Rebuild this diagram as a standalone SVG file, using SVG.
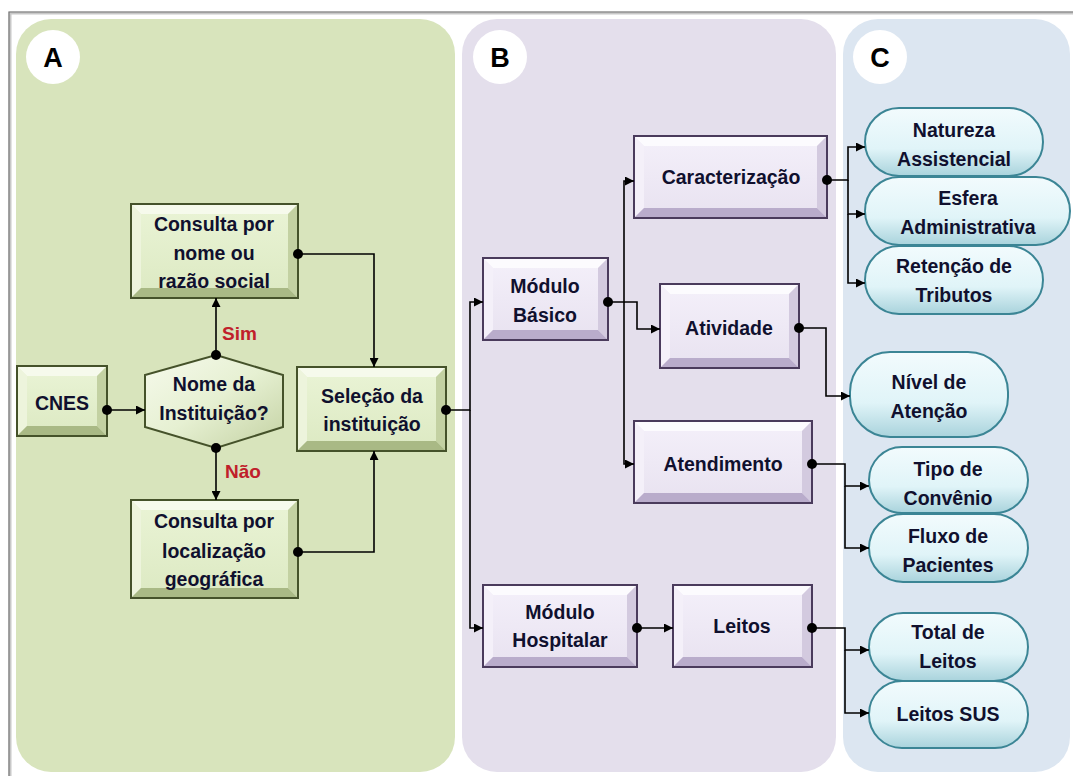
<svg xmlns="http://www.w3.org/2000/svg" width="1073" height="776" viewBox="0 0 1073 776">
<style>
.t{font-family:"Liberation Sans",Arial,sans-serif;font-weight:bold;font-size:19.5px;fill:#10102e;text-anchor:middle}
.lbl{font-family:"Liberation Sans",Arial,sans-serif;font-weight:bold;font-size:19px;fill:#c0202a}
.big{font-family:"Liberation Sans",Arial,sans-serif;font-weight:bold;font-size:27px;fill:#000;text-anchor:middle}
.g .bt{fill:#f6faec}.g .bl{fill:#edf4dc}.g .br{fill:#c3d1a2}.g .bb{fill:#a9b985}.g .f{fill:url(#gface)}.g .o{fill:none;stroke:#45522a;stroke-width:2}
.p .bt{fill:#fcfbfe}.p .bl{fill:#f4f0f9}.p .br{fill:#d3cadf}.p .bb{fill:#b9accb}.p .f{fill:url(#pface)}.p .o{fill:none;stroke:#4a3b5c;stroke-width:2}
.pill{fill:url(#cface);stroke:#3b8595;stroke-width:2}
.c path{fill:none;stroke:#000;stroke-width:1.6;marker-start:url(#dot);marker-end:url(#arr)}
.c path.nd{marker-start:none}
</style>
<defs>
<linearGradient id="gface" x1="0" y1="0" x2="0" y2="1"><stop offset="0" stop-color="#eaf4d6"/><stop offset="1" stop-color="#dce9c2"/></linearGradient>
<linearGradient id="pface" x1="0" y1="0" x2="0" y2="1"><stop offset="0" stop-color="#f4f0fa"/><stop offset="1" stop-color="#e8e2f0"/></linearGradient>
<linearGradient id="cface" x1="0" y1="0" x2="0" y2="1"><stop offset="0" stop-color="#f2fbfd"/><stop offset="0.6" stop-color="#e0f4f8"/><stop offset="1" stop-color="#a9d3dc"/></linearGradient>
<linearGradient id="hface" x1="0" y1="0" x2="1" y2="1"><stop offset="0" stop-color="#f6faec"/><stop offset="0.5" stop-color="#e6f0d2"/><stop offset="1" stop-color="#c3d1a2"/></linearGradient>
<marker id="arr" viewBox="0 0 10 10" refX="10" refY="5" markerWidth="9" markerHeight="9" markerUnits="userSpaceOnUse" orient="auto"><path d="M0,0 L10,5 L0,10 z" fill="#000"/></marker>
<marker id="dot" viewBox="0 0 10 10" refX="5" refY="5" markerWidth="10" markerHeight="10" markerUnits="userSpaceOnUse"><circle cx="5" cy="5" r="5" fill="#000"/></marker>
</defs>
<rect width="1073" height="776" fill="#fff"/>
<path d="M10 776 V13 H1073" fill="none" stroke="#c8c8c8" stroke-width="3"/>
<path d="M9 776 V12 H1073" fill="none" stroke="#777" stroke-width="1.2"/>
<g id="panelA"><rect x="16" y="19" width="439" height="753" rx="35" fill="#d8e4bc"/><circle cx="53" cy="57" r="27" fill="#fff"/><text class="big" x="53" y="67">A</text></g>
<g id="panelB"><rect x="462" y="19" width="374" height="753" rx="35" fill="#e4dfec"/><circle cx="500" cy="57" r="27" fill="#fff"/><text class="big" x="500" y="67">B</text></g>
<g id="panelC"><rect x="843" y="19" width="227" height="753" rx="35" fill="#dce6f1"/><circle cx="880" cy="57" r="27" fill="#fff"/><text class="big" x="880" y="67">C</text></g>

<g id="nome" class="g" transform="translate(131,204)">
<rect class="f" x="0" y="0" width="167" height="94"/>
<polygon class="bt" points="0,0 167,0 157,10 10,10"/><polygon class="bl" points="0,0 10,10 10,84 0,94"/><polygon class="br" points="167,0 167,94 157,84 157,10"/><polygon class="bb" points="0,94 10,84 157,84 167,94"/>
<rect class="o" x="0" y="0" width="167" height="94"/>
<text class="t" x="83" y="27">Consulta por</text><text class="t" x="83" y="56">nome ou</text><text class="t" x="83" y="84">razão social</text>
</g>
<g id="cnes" class="g" transform="translate(17,366)">
<rect class="f" x="0" y="0" width="90" height="70"/>
<polygon class="bt" points="0,0 90,0 80,10 10,10"/><polygon class="bl" points="0,0 10,10 10,60 0,70"/><polygon class="br" points="90,0 90,70 80,60 80,10"/><polygon class="bb" points="0,70 10,60 80,60 90,70"/>
<rect class="o" x="0" y="0" width="90" height="70"/>
<text class="t" x="45" y="44">CNES</text>
</g>
<g id="decisao">
<polygon points="216,355 283,375 283,427 216,448 145,427 145,375" fill="url(#hface)" stroke="#45522a" stroke-width="2"/>
<text class="t" x="214" y="391">Nome da</text><text class="t" x="214" y="420">Instituição?</text>
</g>
<g id="localizacao" class="g" transform="translate(131,500)">
<rect class="f" x="0" y="0" width="167" height="98"/>
<polygon class="bt" points="0,0 167,0 157,10 10,10"/><polygon class="bl" points="0,0 10,10 10,88 0,98"/><polygon class="br" points="167,0 167,98 157,88 157,10"/><polygon class="bb" points="0,98 10,88 157,88 167,98"/>
<rect class="o" x="0" y="0" width="167" height="98"/>
<text class="t" x="83" y="28">Consulta por</text><text class="t" x="83" y="58">localização</text><text class="t" x="83" y="86">geográfica</text>
</g>
<g id="selecao" class="g" transform="translate(297,367)">
<rect class="f" x="0" y="0" width="149" height="84"/>
<polygon class="bt" points="0,0 149,0 139,10 10,10"/><polygon class="bl" points="0,0 10,10 10,74 0,84"/><polygon class="br" points="149,0 149,84 139,74 139,10"/><polygon class="bb" points="0,84 10,74 139,74 149,84"/>
<rect class="o" x="0" y="0" width="149" height="84"/>
<text class="t" x="75" y="36">Seleção da</text><text class="t" x="75" y="64">instituição</text>
</g>

<g id="moduloBasico" class="p" transform="translate(483,258)">
<rect class="f" x="0" y="0" width="125" height="82"/>
<polygon class="bt" points="0,0 125,0 115,10 10,10"/><polygon class="bl" points="0,0 10,10 10,72 0,82"/><polygon class="br" points="125,0 125,82 115,72 115,10"/><polygon class="bb" points="0,82 10,72 115,72 125,82"/>
<rect class="o" x="0" y="0" width="125" height="82"/>
<text class="t" x="62" y="35">Módulo</text><text class="t" x="62" y="64">Básico</text>
</g>
<g id="caracterizacao" class="p" transform="translate(634,136)">
<rect class="f" x="0" y="0" width="193" height="82"/>
<polygon class="bt" points="0,0 193,0 183,10 10,10"/><polygon class="bl" points="0,0 10,10 10,72 0,82"/><polygon class="br" points="193,0 193,82 183,72 183,10"/><polygon class="bb" points="0,82 10,72 183,72 193,82"/>
<rect class="o" x="0" y="0" width="193" height="82"/>
<text class="t" x="97" y="48">Caracterização</text>
</g>
<g id="atividade" class="p" transform="translate(660,284)">
<rect class="f" x="0" y="0" width="139" height="84"/>
<polygon class="bt" points="0,0 139,0 129,10 10,10"/><polygon class="bl" points="0,0 10,10 10,74 0,84"/><polygon class="br" points="139,0 139,84 129,74 129,10"/><polygon class="bb" points="0,84 10,74 129,74 139,84"/>
<rect class="o" x="0" y="0" width="139" height="84"/>
<text class="t" x="69" y="51">Atividade</text>
</g>
<g id="atendimento" class="p" transform="translate(634,421)">
<rect class="f" x="0" y="0" width="178" height="82"/>
<polygon class="bt" points="0,0 178,0 168,10 10,10"/><polygon class="bl" points="0,0 10,10 10,72 0,82"/><polygon class="br" points="178,0 178,82 168,72 168,10"/><polygon class="bb" points="0,82 10,72 168,72 178,82"/>
<rect class="o" x="0" y="0" width="178" height="82"/>
<text class="t" x="89" y="50">Atendimento</text>
</g>
<g id="moduloHospitalar" class="p" transform="translate(483,585)">
<rect class="f" x="0" y="0" width="154" height="82"/>
<polygon class="bt" points="0,0 154,0 144,10 10,10"/><polygon class="bl" points="0,0 10,10 10,72 0,82"/><polygon class="br" points="154,0 154,82 144,72 144,10"/><polygon class="bb" points="0,82 10,72 144,72 154,82"/>
<rect class="o" x="0" y="0" width="154" height="82"/>
<text class="t" x="77" y="34">Módulo</text><text class="t" x="77" y="62">Hospitalar</text>
</g>
<g id="leitos" class="p" transform="translate(673,585)">
<rect class="f" x="0" y="0" width="139" height="82"/>
<polygon class="bt" points="0,0 139,0 129,10 10,10"/><polygon class="bl" points="0,0 10,10 10,72 0,82"/><polygon class="br" points="139,0 139,82 129,72 129,10"/><polygon class="bb" points="0,82 10,72 129,72 139,82"/>
<rect class="o" x="0" y="0" width="139" height="82"/>
<text class="t" x="69" y="48">Leitos</text>
</g>

<g id="natureza"><rect class="pill" x="865" y="108" width="178" height="68" rx="34"/><text class="t" x="954" y="137">Natureza</text><text class="t" x="954" y="166">Assistencial</text></g>
<g id="esfera"><rect class="pill" x="865" y="177" width="205" height="68" rx="34"/><text class="t" x="968" y="205">Esfera</text><text class="t" x="968" y="234">Administrativa</text></g>
<g id="retencao"><rect class="pill" x="865" y="246" width="178" height="68" rx="34"/><text class="t" x="954" y="273">Retenção de</text><text class="t" x="954" y="302">Tributos</text></g>
<g id="nivel"><rect class="pill" x="850" y="352" width="158" height="85" rx="40"/><text class="t" x="929" y="389">Nível de</text><text class="t" x="929" y="418">Atenção</text></g>
<g id="tipo"><rect class="pill" x="869" y="447" width="159" height="66" rx="33"/><text class="t" x="948" y="476">Tipo de</text><text class="t" x="948" y="505">Convênio</text></g>
<g id="fluxo"><rect class="pill" x="869" y="514" width="159" height="68" rx="34"/><text class="t" x="948" y="543">Fluxo de</text><text class="t" x="948" y="572">Pacientes</text></g>
<g id="total"><rect class="pill" x="869" y="613" width="159" height="68" rx="34"/><text class="t" x="948" y="639">Total de</text><text class="t" x="948" y="668">Leitos</text></g>
<g id="sus"><rect class="pill" x="869" y="681" width="159" height="67" rx="33"/><text class="t" x="948" y="721">Leitos SUS</text></g>

<g id="connectors" class="c">
<path d="M107 410 H145"/>
<path d="M216 355 V298"/>
<path d="M216 448 V500"/>
<path d="M298 254 H374 V367"/>
<path d="M298 552 H374 V451"/>
<path d="M446 410 H470 V302 H483"/>
<path class="nd" d="M470 410 V628 H483"/>
<path d="M608 302 H624 V181 H634"/>
<path class="nd" d="M624 302 V464 H634"/>
<path class="nd" d="M624 302 H637 V329 H660"/>
<path d="M827 180 H848 V147 H865"/>
<path class="nd" d="M848 180 V214 H865"/>
<path class="nd" d="M848 214 V283 H865"/>
<path d="M799 328 H826 V396 H850"/>
<path d="M812 464 H845 V486 H869"/>
<path class="nd" d="M845 486 V548 H869"/>
<path d="M637 628 H673"/>
<path d="M812 628 H845 V650 H869"/>
<path class="nd" d="M845 650 V713 H869"/>
</g>
<text class="lbl" x="222" y="340">Sim</text>
<text class="lbl" x="225" y="478">Não</text>
</svg>
